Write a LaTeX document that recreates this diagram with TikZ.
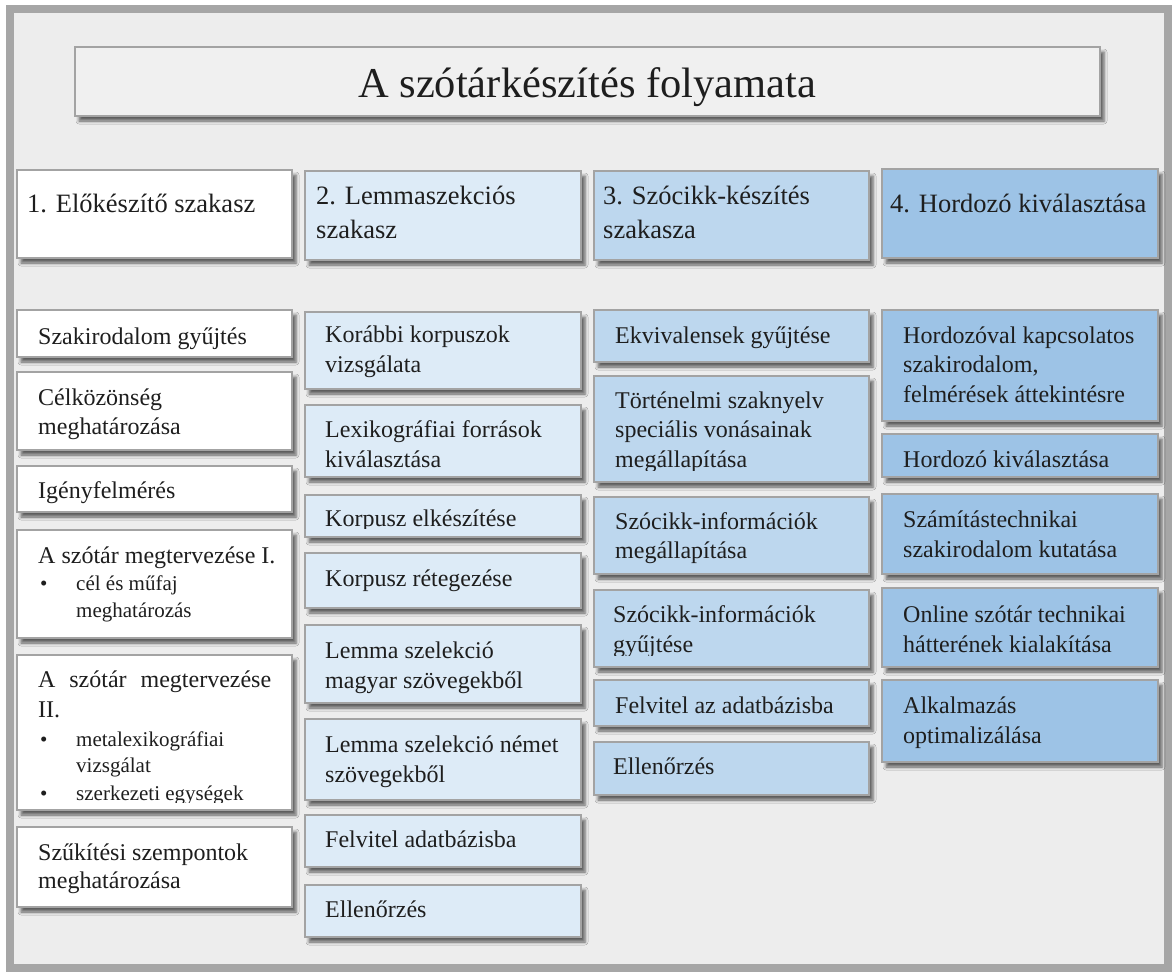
\documentclass[tikz,border=0pt]{standalone}
\usepackage{fontspec}
\setmainfont{Liberation Serif}
\usetikzlibrary{shadows.blur}

\definecolor{bg}{HTML}{EDEDED}
\definecolor{frame}{HTML}{A6A6A6}
\definecolor{edge}{HTML}{A3A3A3}
\definecolor{titlefill}{HTML}{F0F0F0}
\definecolor{tone1}{HTML}{FFFFFF}
\definecolor{tone2}{HTML}{DDEBF7}
\definecolor{tone3}{HTML}{BDD7EE}
\definecolor{tone4}{HTML}{9DC3E6}
\definecolor{ink}{HTML}{1E1E1E}

\tikzset{
  panelbox/.style={draw=edge, line width=2pt, inner sep=0pt, outer sep=0pt,
    blur shadow={shadow xshift=4pt, shadow yshift=-5pt, shadow blur radius=3pt, shadow opacity=60}},
  bodytext/.style={anchor=base west, inner sep=0pt, text=ink, font=\fontsize{24}{30}\selectfont},
  headtext/.style={bodytext, font=\fontsize{26.5}{35}\selectfont},
}

% a box of the chart: name, x1, y1, x2, y2, fill
\newcommand\panel[6]{\node[panelbox, fill=#6, minimum width={#4-#2}, minimum height={#5-#3},
  anchor=north west] (#1) at (#2,#3) {};}
% its text: [style] box name, bottom inset of the clip, x, first baseline, content
\newcommand\paneltext[6][bodytext]{%
  \begin{scope}
    \clip (#2.north west) rectangle ([yshift=#3pt]#2.south east);
    \node[#1] (#2-t) at (#4,#5) {#6};
  \end{scope}}
% stacked lines with a fixed baseline step
\newcommand\rows[2][30]{\vtop{\lineskiplimit=-50pt\lineskip=0pt\baselineskip=#1pt #2}}
\newcommand\smallf{\fontsize{21}{26}\selectfont}
\newcommand\bul[1]{\hbox{\smallf\hspace*{2pt}\makebox[36pt][l]{\textbullet}#1}}
\newcommand\cont[1]{\hbox{\smallf\hspace*{38pt}#1}}

\begin{document}
\begin{tikzpicture}[x=1pt, y=-1pt]
\useasboundingbox (0,0) rectangle (1172,972);
\fill[white] (0,0) rectangle (1172,972);
% outer frame
\draw[frame, line width=8pt, fill=bg] (10,9) rectangle (1168,968);

% title
\panel{titlebox}{75}{47}{1100}{116}{titlefill}
\node[anchor=base west, inner sep=0pt, font=\fontsize{42.5}{50}\selectfont, text=ink]
  (title) at (358,97) {A szótárkészítés folyamata};

% ---- column 1: preparation
\panel{h1}{17}{170}{292}{258}{tone1}
\paneltext[headtext]{h1}{0}{27}{212}{1. Előkészítő szakasz}
\panel{a1}{17}{310}{292}{357}{tone1}
\paneltext{a1}{0}{38}{344}{Szakirodalom gyűjtés}
\panel{a2}{17}{372}{292}{450}{tone1}
\paneltext{a2}{0}{38}{405}{\rows[29]{\hbox{Célközönség}\hbox{meghatározása}}}
\panel{a3}{17}{466}{292}{512}{tone1}
\paneltext{a3}{0}{38}{498}{Igényfelmérés}
\panel{a4}{17}{530}{292}{638}{tone1}
\paneltext{a4}{0}{38}{563}{\vtop{\lineskiplimit=-50pt\lineskip=0pt
  \baselineskip=31pt \hbox{A szótár megtervezése I.}
  \baselineskip=27pt \bul{cél és műfaj}\cont{meghatározás}}}
\panel{a5}{17}{655}{292}{810}{tone1}
\paneltext{a5}{8}{38}{687}{\vtop{\lineskiplimit=-50pt\lineskip=0pt
  \baselineskip=30pt \hbox{\makebox[233pt][s]{A szótár megtervezése}}\hbox{II.}
  \baselineskip=29pt \bul{metalexikográfiai}
  \baselineskip=26pt \cont{vizsgálat}
  \baselineskip=28pt \bul{szerkezeti egységek}}}
\panel{a6}{17}{827}{292}{907}{tone1}
\paneltext{a6}{0}{38}{860}{\rows[28]{\hbox{Szűkítési szempontok}\hbox{meghatározása}}}

% ---- column 2: lemma selection
\panel{h2}{305}{171}{581}{260}{tone2}
\paneltext[headtext]{h2}{0}{316}{204}{\rows[34]{\hbox{2. Lemmaszekciós}\hbox{szakasz}}}
\panel{b1}{305}{312}{581}{389}{tone2}
\paneltext{b1}{0}{325}{342}{\rows{\hbox{Korábbi korpuszok}\hbox{vizsgálata}}}
\panel{b2}{305}{405}{581}{477}{tone2}
\paneltext{b2}{8}{325}{437}{\rows{\hbox{Lexikográfiai források}\hbox{kiválasztása}}}
\panel{b3}{305}{495}{581}{537}{tone2}
\paneltext{b3}{9}{325}{526}{Korpusz elkészítése}
\panel{b4}{305}{553}{581}{608}{tone2}
\paneltext{b4}{0}{325}{586}{Korpusz rétegezése}
\panel{b5}{305}{625}{581}{703}{tone2}
\paneltext{b5}{0}{325}{658}{\rows{\hbox{Lemma szelekció}\hbox{magyar szövegekből}}}
\panel{b6}{305}{719}{581}{800}{tone2}
\paneltext{b6}{0}{325}{752}{\rows{\hbox{Lemma szelekció német}\hbox{szövegekből}}}
\panel{b7}{305}{815}{581}{867}{tone2}
\paneltext{b7}{0}{325}{847}{Felvitel adatbázisba}
\panel{b8}{305}{885}{581}{937}{tone2}
\paneltext{b8}{0}{325}{917}{Ellenőrzés}

% ---- column 3: entries
\panel{h3}{594}{171}{869}{260}{tone3}
\paneltext[headtext]{h3}{0}{603}{204}{\rows[34]{\hbox{3. Szócikk-készítés}\hbox{szakasza}}}
\panel{c1}{594}{310}{869}{362}{tone3}
\paneltext{c1}{0}{615}{343}{Ekvivalensek gyűjtése}
\panel{c2}{594}{376}{869}{482}{tone3}
\paneltext{c2}{12}{615}{408}{\rows[29.5]{\hbox{Történelmi szaknyelv}\hbox{speciális vonásainak}\hbox{megállapítása}}}
\panel{c3}{594}{497}{869}{574}{tone3}
\paneltext{c3}{0}{615}{529}{\rows[29]{\hbox{Szócikk-információk}\hbox{megállapítása}}}
\panel{c4}{594}{590}{869}{667}{tone3}
\paneltext{c4}{12}{613}{622}{\rows{\hbox{Szócikk-információk}\hbox{gyűjtése}}}
\panel{c5}{594}{680}{869}{726}{tone3}
\paneltext{c5}{0}{615}{713}{Felvitel az adatbázisba}
\panel{c6}{594}{742}{869}{795}{tone3}
\paneltext{c6}{0}{613}{774}{Ellenőrzés}

% ---- column 4: medium
\panel{h4}{882}{169}{1158}{258}{tone4}
\paneltext[headtext]{h4}{0}{890}{212}{4. Hordozó kiválasztása}
\panel{d1}{882}{310}{1158}{421}{tone4}
\paneltext{d1}{0}{903}{343}{\rows[29.5]{\hbox{Hordozóval kapcsolatos}\hbox{szakirodalom,}\hbox{felmérések áttekintésre}}}
\panel{d2}{882}{434}{1158}{477}{tone4}
\paneltext{d2}{0}{903}{467}{Hordozó kiválasztása}
\panel{d3}{882}{494}{1158}{574}{tone4}
\paneltext{d3}{0}{903}{527}{\rows{\hbox{Számítástechnikai}\hbox{szakirodalom kutatása}}}
\panel{d4}{882}{588}{1158}{667}{tone4}
\paneltext{d4}{0}{903}{622}{\rows{\hbox{Online szótár technikai}\hbox{hátterének kialakítása}}}
\panel{d5}{882}{680}{1158}{762}{tone4}
\paneltext{d5}{0}{903}{713}{\rows{\hbox{Alkalmazás}\hbox{optimalizálása}}}
\end{tikzpicture}
\end{document}
